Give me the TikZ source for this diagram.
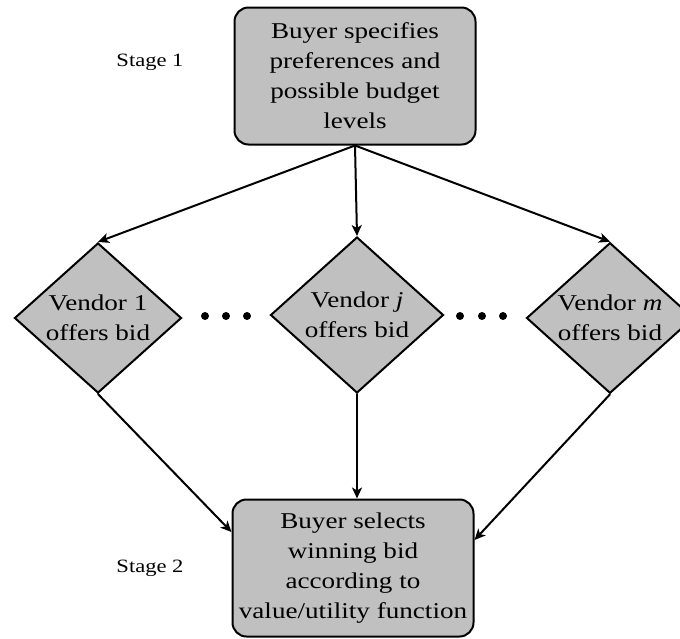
\documentclass[tikz,border=0pt]{standalone}
\usepackage{fontspec}
\setmainfont{Liberation Serif}[FakeStretch=1.2]
\usetikzlibrary{shapes.geometric,arrows.meta}
\definecolor{boxgray}{RGB}{192,192,192}
\begin{document}
\begin{tikzpicture}[x=0.5pt, y=-0.5pt, line cap=round,
  stagebox/.style={draw, line width=1pt, fill=boxgray, rounded corners=7pt,
    minimum width=120.5pt, minimum height=68.5pt, align=center, inner sep=2pt,
    font=\fontsize{11.3}{15}\selectfont},
  vendor/.style={draw, diamond, line width=1pt, fill=boxgray, inner sep=0pt,
    minimum width=83.5pt, minimum height=75pt, align=center,
    font=\fontsize{11.3}{15}\selectfont},
  flow/.style={line width=1pt, -{Stealth[length=5.5pt,width=5pt,inset=1.5pt]}},
  dot/.style={circle, fill, inner sep=0pt, minimum size=4pt},
  stagelabel/.style={font=\fontsize{9.4}{11}\selectfont}]
  \useasboundingbox (0,0) rectangle (680,638);
  % Boxes of the two stages.
  \node[stagebox] (specify) at (355,76)
    {Buyer specifies\\preferences and\\possible budget\\levels};
  \node[stagebox] (select) at (353,568)
    {Buyer selects\\winning bid\\according to\\value/utility function};
  \node[stagelabel] (stage1) at (150,62) {Stage 1};
  \node[stagelabel] (stage2) at (150,568) {Stage 2};
  % Vendors.
  \node[vendor] (v1) at (98,318) {Vendor 1\\offers bid};
  \node[vendor, minimum width=86.5pt, minimum height=78pt] (vj) at (357,315)
    {Vendor \textit{j}\\offers bid};
  \node[vendor] (vm) at (610,318) {Vendor \textit{m}\\offers bid};
  % Dots between vendors.
  \foreach \x [count=\i] in {205,226,247} {
    \node[dot] (dl\i) at (\x,316) {};
  }
  \foreach \x [count=\i] in {460,482,503} {
    \node[dot] (dr\i) at (\x,316) {};
  }
  % Arrows.
  \draw[flow] (specify.south) -- (v1.north);
  \draw[flow] (specify.south) -- (vj.north);
  \draw[flow] (specify.south) -- (vm.north);
  \draw[flow] (v1.south) -- ([yshift=18pt]select.west);
  \draw[flow] (vj.south) -- (vj.south |- select.north);
  \draw[flow] (vm.south) -- ([yshift=14pt]select.east);
\end{tikzpicture}
\end{document}
